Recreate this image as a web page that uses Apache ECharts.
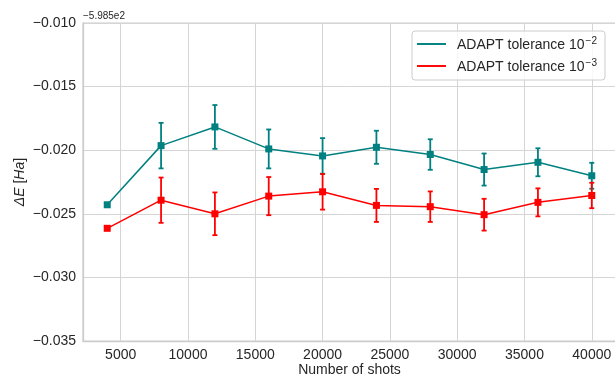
<!DOCTYPE html>
<html>
<head>
<meta charset="utf-8">
<script src="https://cdn.jsdelivr.net/npm/echarts@6/dist/echarts.min.js"></script>
<style>html,body{margin:0;padding:0;background:#fff;}#c{width:615px;height:376px;}</style>
</head>
<body>
<div id="c"></div>
<script>
// ---- data (values shown relative to offset -598.5) ----
const shots = [4000, 8000, 12000, 16000, 20000, 24000, 28000, 32000, 36000, 40000];
const tol2 = [-0.02429, -0.01964, -0.01817, -0.0199, -0.02045, -0.01977, -0.02034, -0.02152, -0.02095, -0.02201];
const tol2Err = [0, 0.00179, 0.00172, 0.00153, 0.0014, 0.0013, 0.0012, 0.00126, 0.0011, 0.00102];
const tol3 = [-0.02614, -0.02393, -0.0250, -0.02361, -0.02327, -0.02434, -0.02444, -0.02507, -0.0241, -0.02356];
const tol3Err = [0, 0.00178, 0.00168, 0.0015, 0.0014, 0.0013, 0.0012, 0.00125, 0.0011, 0.001];
const xTicks = [5000, 10000, 15000, 20000, 25000, 30000, 35000, 40000];
const seriesNames = ['ADAPT tolerance 10^-2', 'ADAPT tolerance 10^-3'];
const seriesSup = ['−2', '−3'];
const offsetText = '−5.985e2';

const FONT = '"Liberation Sans", Arial, sans-serif';
const TXT = '#262626';
const GRIDC = '#d5d5d5';

function pairs(xs, ys) { return xs.map((x, i) => [x, ys[i]]); }
function errData(xs, ys, es) { return xs.map((x, i) => [x, ys[i], es[i]]); }

function errRender(color) {
  return function (params, api) {
    const x = api.value(0), y = api.value(1), e = api.value(2);
    if (!e) return null;
    const top = api.coord([x, y + e]);
    const bot = api.coord([x, y - e]);
    const cap = 2.5;
    const st = { stroke: color, lineWidth: 1.8 };
    return {
      type: 'group',
      children: [
        { type: 'line', shape: { x1: top[0], y1: top[1], x2: bot[0], y2: bot[1] }, style: st },
        { type: 'line', shape: { x1: top[0] - cap, y1: top[1], x2: top[0] + cap, y2: top[1] }, style: st },
        { type: 'line', shape: { x1: bot[0] - cap, y1: bot[1], x2: bot[0] + cap, y2: bot[1] }, style: st }
      ]
    };
  };
}

const colors = ['#008080', '#ff0000'];
const chart = echarts.init(document.getElementById('c'), null, { renderer: 'canvas' });
chart.setOption({
  animation: false,
  backgroundColor: '#ffffff',
  textStyle: { fontFamily: FONT, color: TXT },
  grid: {
    left: 83, right: -1, top: 23, bottom: 35, show: true, borderColor: '#cccccc', borderWidth: 1.25,
    containLabel: false, outerBoundsMode: 'none'
  },
  legend: {
    left: 412, top: 31, orient: 'vertical',
    data: seriesNames.map(n => ({ name: n, icon: 'path://M0,0H30V2H0Z' })),
    itemWidth: 29, itemHeight: 14, itemGap: 6,
    padding: [5, 8, 6, 5],
    backgroundColor: 'rgba(255,255,255,0.8)', borderColor: '#cccccc', borderWidth: 1, borderRadius: 3,
    formatter: function (name) {
      const i = seriesNames.indexOf(name);
      return '{m|ADAPT tolerance 10}{s|' + seriesSup[i] + '}';
    },
    textStyle: {
      fontFamily: FONT, color: TXT, fontSize: 14,
      rich: {
        m: { fontFamily: FONT, fontSize: 14, color: TXT, lineHeight: 16, verticalAlign: 'bottom', padding: [0, 0, 0, 6] },
        s: { fontFamily: FONT, fontSize: 10, color: TXT, lineHeight: 16, verticalAlign: 'top', padding: [0, 0, 6, 1] }
      }
    }
  },
  xAxis: {
    type: 'value', min: 2200, max: 41800,
    name: 'Number of shots', nameLocation: 'middle', nameGap: 22, nameMoveOverlap: false,
    nameTextStyle: { fontFamily: FONT, fontSize: 14, color: TXT },
    axisLine: { show: true, lineStyle: { color: '#cccccc', width: 1.25 } },
    axisTick: { show: false, customValues: xTicks },
    axisLabel: { customValues: xTicks, fontFamily: FONT, fontSize: 14, color: TXT, margin: 7, formatter: v => String(v) },
    splitLine: { show: true, lineStyle: { color: GRIDC, width: 1 } }
  },
  yAxis: {
    type: 'value', min: -0.035, max: -0.010, interval: 0.005,
    name: '{i|ΔE} {n|[}{i|Ha}{n|]}', nameLocation: 'middle', nameGap: 56, nameRotate: 90, nameMoveOverlap: false,
    nameTextStyle: {
      fontFamily: FONT, fontSize: 14, color: TXT,
      rich: {
        i: { fontFamily: FONT, fontSize: 14, color: TXT, fontStyle: 'italic' },
        n: { fontFamily: FONT, fontSize: 14, color: TXT }
      }
    },
    axisLine: { show: true, lineStyle: { color: '#cccccc', width: 1.25 } },
    axisTick: { show: false },
    axisLabel: {
      fontFamily: FONT, fontSize: 14, color: TXT, margin: 7,
      formatter: v => v.toFixed(3).replace('-', '−')
    },
    splitLine: { show: true, lineStyle: { color: GRIDC, width: 1 } }
  },
  graphic: [{
    type: 'text', left: 83, top: 11,
    style: { text: offsetText, fontFamily: FONT, fontSize: 10, fill: TXT }
  }],
  series: [
    {
      name: seriesNames[0], type: 'line', data: pairs(shots, tol2), z: 2,
      color: colors[0], symbol: 'rect', symbolSize: 7,
      lineStyle: { color: colors[0], width: 1.5 }, itemStyle: { color: colors[0] }
    },
    {
      name: seriesNames[0] + '_err', type: 'custom', data: errData(shots, tol2, tol2Err), z: 3,
      renderItem: errRender(colors[0]), encode: { x: 0, y: 1 }, silent: true
    },
    {
      name: seriesNames[1], type: 'line', data: pairs(shots, tol3), z: 4,
      color: colors[1], symbol: 'rect', symbolSize: 7,
      lineStyle: { color: colors[1], width: 1.5 }, itemStyle: { color: colors[1] }
    },
    {
      name: seriesNames[1] + '_err', type: 'custom', data: errData(shots, tol3, tol3Err), z: 5,
      renderItem: errRender(colors[1]), encode: { x: 0, y: 1 }, silent: true
    }
  ]
});
</script>
</body>
</html>
